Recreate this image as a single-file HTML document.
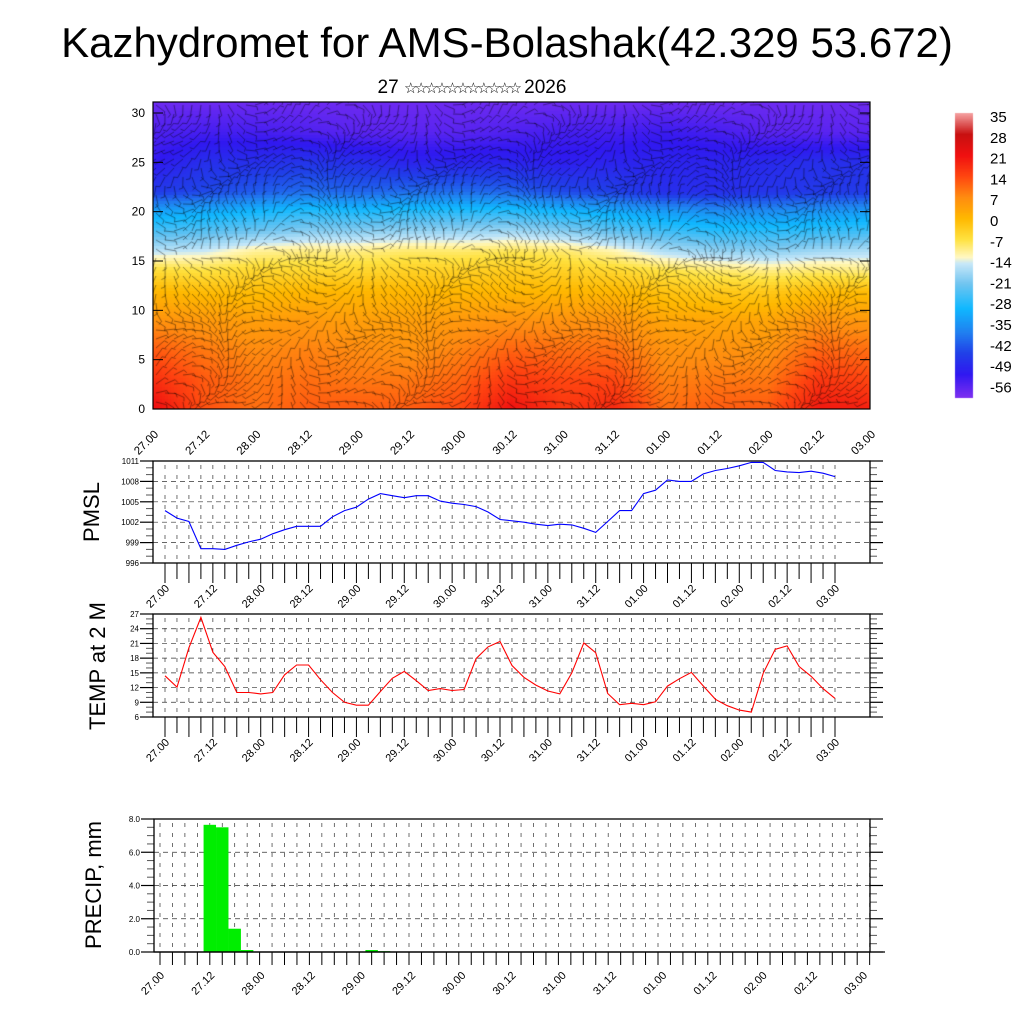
<!DOCTYPE html>
<html><head><meta charset="utf-8">
<style>
html,body{margin:0;padding:0;background:#fff;}
#wrap{position:relative;width:1024px;height:1024px;overflow:hidden;font-family:"Liberation Sans","DejaVu Sans",sans-serif;}
canvas{position:absolute;left:0;top:0;}
svg{position:absolute;left:0;top:0;}
</style></head>
<body>
<div id="wrap">
<canvas id="heat" width="1024" height="1024"></canvas>
<svg id="svg" width="1024" height="1024" xmlns="http://www.w3.org/2000/svg">
<text x="507" y="57" text-anchor="middle" font-size="42" fill="#000">Kazhydromet for AMS-Bolashak(42.329 53.672)</text>
<text x="472" y="93" text-anchor="middle" font-size="19" fill="#000">27 <tspan font-size="15" font-family="DejaVu Sans" letter-spacing="-3">☆☆☆☆☆☆☆☆☆☆☆</tspan> 2026</text>
</svg>
</div>
<script>
// ---------- data ----------
const timeLabels = ["27.00","27.12","28.00","28.12","29.00","29.12","30.00","30.12","31.00","31.12","01.00","01.12","02.00","02.12","03.00"];
const heights = [0,3,6,9,12,14,16,18,20,22,25,28,31];
const tempField = [
 [22,13,10,12,12,12,14,21,16,18,10,12,12,20,19],
 [17,12,9,10,9,9,11,16,14,14,8,9,9,16,14],
 [12,9,7,8,7,6,8,11,10,10,6,6,6,11,10],
 [6,5,4,5,4,4,5,6,6,6,3,3,3,6,5],
 [0,-1,-1,0,0,0,0,0,0,0,-2,-3,-3,-1,-1],
 [-6,-7,-5,-5,-5,-4,-4,-3,-4,-5,-7,-9,-10,-9,-10],
 [-16,-15,-11,-10,-10,-9,-9,-8,-9,-12,-17,-19,-20,-18,-17],
 [-25,-24,-22,-20,-20,-19,-19,-18,-20,-23,-26,-28,-28,-27,-26],
 [-33,-32,-30,-28,-29,-28,-28,-28,-30,-32,-34,-36,-36,-35,-34],
 [-46,-44,-42,-40,-41,-40,-40,-41,-44,-45,-48,-48,-47,-46,-46],
 [-52,-48,-48,-47,-48,-50,-50,-50,-51,-50,-50,-50,-49,-48,-48],
 [-55,-54,-54,-55,-56,-56,-56,-55,-54,-54,-53,-54,-56,-56,-56],
 [-58,-58,-58,-58,-58,-58,-58,-58,-58,-58,-58,-58,-58,-58,-58]
];
const heightTicks = [0,5,10,15,20,25,30];
const colorbarLabels = [35,28,21,14,7,0,-7,-14,-21,-28,-35,-42,-49,-56];
const pmsl = [1003.7,1002.6,1002.1,998.1,998.1,998.0,998.6,999.1,999.5,1000.3,1000.9,1001.4,1001.4,1001.4,1002.8,1003.7,1004.2,1005.4,1006.2,1005.9,1005.6,1005.9,1005.9,1005.1,1004.8,1004.6,1004.3,1003.5,1002.4,1002.2,1002.0,1001.7,1001.5,1001.7,1001.6,1001.1,1000.5,1002.1,1003.7,1003.7,1006.2,1006.7,1008.2,1008.0,1008.0,1009.1,1009.6,1009.9,1010.3,1010.8,1010.8,1009.6,1009.4,1009.3,1009.5,1009.2,1008.7];
const pmslTicks = [996,999,1002,1005,1008,1011];
const temp2m = [14.4,12.1,20.1,26.3,19.2,16.3,11.0,11.0,10.7,11.0,14.6,16.6,16.6,13.6,11.0,9.0,8.4,8.4,11.2,13.9,15.3,13.4,11.4,11.8,11.4,11.6,17.9,20.3,21.4,16.5,14.1,12.5,11.3,10.7,15.0,21.1,19.1,10.8,8.5,8.8,8.5,9.1,12.3,13.8,15.1,12.3,9.6,8.3,7.4,7.0,14.9,19.8,20.5,16.3,14.3,11.8,9.8];
const tempTicks = [6,9,12,15,18,21,24,27];
const precip = [0,0,0,0,7.65,7.5,1.4,0.12,0.03,0,0,0,0,0,0,0,0,0.12,0.05,0,0,0,0,0,0,0,0,0,0,0,0,0,0,0,0,0,0,0,0.02,0.02,0.02,0,0,0,0,0,0,0,0,0,0,0,0,0,0,0,0];
const precipTicks = [0,2,4,6,8];

// ---------- helpers ----------
const NS="http://www.w3.org/2000/svg";
const svg=document.getElementById('svg');
function mk(tag,attrs,parent){const e=document.createElementNS(NS,tag);for(const k in attrs)e.setAttribute(k,attrs[k]);(parent||svg).appendChild(e);return e;}

const cstops=[[-60,[128,48,240]],[-52,[48,24,240]],[-45,[32,64,232]],[-38,[32,128,240]],[-30,[16,184,255]],[-22,[110,196,240]],[-15,[200,232,248]],[-13,[255,248,196]],[-7,[255,226,64]],[0,[255,184,0]],[7,[255,140,16]],[14,[255,70,16]],[21,[240,16,16]],[28,[200,16,16]],[35,[244,160,160]]];
function cmap(v){
 if(v<=cstops[0][0])return cstops[0][1];
 for(let i=1;i<cstops.length;i++){if(v<=cstops[i][0]){const a=cstops[i-1],b=cstops[i];const t=(v-a[0])/(b[0]-a[0]);return a[1].map((c,j)=>Math.round(c+(b[1][j]-c)*t));}}
 return cstops[cstops.length-1][1];
}

// ---------- main panel ----------
const M={x0:153,x1:870,y0:102,y1:409};
const hx=i=>M.x0+i*(M.x1-M.x0)/(timeLabels.length-1);
const hy=h=>M.y1-h*(409-113)/30;
(function(){
 const ctx=document.getElementById('heat').getContext('2d');
 const step=3;
 for(let py=M.y0;py<M.y1;py+=step){
  const h=(M.y1-py-step/2)/((409-113)/30);
  let r=0;while(r<heights.length-2&&h>heights[r+1])r++;
  const tr=Math.max(0,Math.min(1,(h-heights[r])/(heights[r+1]-heights[r])));
  for(let px=M.x0;px<M.x1;px+=step){
   const fx=(px+step/2-M.x0)/((M.x1-M.x0)/(timeLabels.length-1));
   let c=Math.min(timeLabels.length-2,Math.floor(fx));const tc=Math.max(0,Math.min(1,fx-c));
   const v0=tempField[r][c]*(1-tc)+tempField[r][c+1]*tc;
   const v1=tempField[r+1][c]*(1-tc)+tempField[r+1][c+1]*tc;
   const v=v0*(1-tr)+v1*tr;const col=cmap(v);
   ctx.fillStyle=`rgb(${col[0]},${col[1]},${col[2]})`;
   ctx.fillRect(px,py,Math.min(step,M.x1-px),Math.min(step,M.y1-py));
  }
 }
 // wind barb texture (clipped to panel)
 ctx.save();
 ctx.beginPath();ctx.rect(M.x0,M.y0,M.x1-M.x0,M.y1-M.y0);ctx.clip();
 ctx.strokeStyle='rgba(0,0,0,0.7)';ctx.lineWidth=0.6;
 for(let gx=M.x0+3;gx<M.x1;gx+=9){
  for(let gy=M.y0+3;gy<M.y1;gy+=9){
   const a=Math.sin(gx*0.031+gy*0.017)*1.6+Math.cos(gy*0.043)*0.9+(gy<250?0.3:1.5);
   const L=11;const dx=Math.cos(a)*L,dy=Math.sin(a)*L;
   ctx.beginPath();ctx.moveTo(gx,gy);ctx.lineTo(gx+dx,gy+dy);
   ctx.lineTo(gx+dx+Math.cos(a+1.2)*4,gy+dy+Math.sin(a+1.2)*4);ctx.stroke();
  }
 }
 ctx.restore();
 const cb={x:955,w:18,y0:113,y1:398};
 for(let y=cb.y0;y<cb.y1;y++){
  const v=35-(y-cb.y0)/(cb.y1-cb.y0)*(35+60);
  const col=cmap(v);ctx.fillStyle=`rgb(${col[0]},${col[1]},${col[2]})`;ctx.fillRect(cb.x,y,cb.w,1);
 }
})();
mk('rect',{x:M.x0,y:M.y0,width:M.x1-M.x0,height:M.y1-M.y0,fill:'none',stroke:'#000','stroke-width':1.2,});
heightTicks.forEach(h=>{
 const t=mk('text',{x:145,y:hy(h)+4,'text-anchor':'end','font-size':12});t.textContent=h;
 
 
 mk('line',{x1:M.x0,x2:M.x0+10,y1:hy(h),y2:hy(h),stroke:'#000'});
 mk('line',{x1:M.x1,x2:M.x1-10,y1:hy(h),y2:hy(h),stroke:'#000'});
});
timeLabels.forEach((l,i)=>{
 const x=hx(i),y=423;
 const t=mk('text',{'text-anchor':'end','font-size':11.5,transform:`translate(${x+6},${y+12}) rotate(-45)`});t.textContent=l;
 
 
});
colorbarLabels.forEach((v,i)=>{
 const t=mk('text',{x:990,y:122+i*20.8,'font-size':15});t.textContent=v;
 
 
});

// ---------- line panels ----------
function linePanel(cfg){
 const {y0,y1,vmin,vmax,ticks,vals,color,title,ty,name}=cfg;
 const bx0=153,bx1=870,tx0=165,tx1=835;
 const n=vals.length;
 const X=i=>tx0+i*(tx1-tx0)/(n-1);
 const Y=v=>y1-(v-vmin)/(vmax-vmin)*(y1-y0);
 for(let i=0;i<n;i++){mk('line',{x1:X(i),x2:X(i),y1:y0+4,y2:y1,stroke:'#333','stroke-width':0.7,'stroke-dasharray':'4,6'});
  mk('line',{x1:X(i),x2:X(i),y1:y1,y2:y1+(i%2?16:20),stroke:'#000','stroke-width':1});}
 ticks.forEach((v,k)=>{
  mk('line',{x1:bx0,x2:bx1,y1:Y(v),y2:Y(v),stroke:'#333','stroke-width':0.7,'stroke-dasharray':'5,4'});
  mk('line',{x1:bx0-13,x2:bx0,y1:Y(v),y2:Y(v),stroke:'#000','stroke-width':1.2});
  mk('line',{x1:bx1,x2:bx1+13,y1:Y(v),y2:Y(v),stroke:'#000','stroke-width':1.2});
  if(k<ticks.length-1){for(let m=1;m<3;m++){const yy=Y(v+(ticks[1]-ticks[0])*m/3);
   mk('line',{x1:bx0-7,x2:bx0,y1:yy,y2:yy,stroke:'#555'});mk('line',{x1:bx1,x2:bx1+7,y1:yy,y2:yy,stroke:'#555'});}}
  const t=mk('text',{x:bx0-14,y:Y(v)+3,'text-anchor':'end','font-size':8});t.textContent=v;
  
  
 });
 mk('rect',{x:bx0,y:y0,width:bx1-bx0,height:y1-y0,fill:'none',stroke:'#000','stroke-width':1.3});
 const pts=vals.map((v,i)=>X(i).toFixed(1)+','+Y(v).toFixed(1)).join(' ');
 const pl=mk('polyline',{points:pts,fill:'none',stroke:color,'stroke-width':1.1});
 
 
 timeLabels.forEach((l,i)=>{
  const x=tx0+i*(tx1-tx0)/(timeLabels.length-1);
  const t=mk('text',{'text-anchor':'end','font-size':11,transform:`translate(${x+5},${y1+26}) rotate(-45)`});t.textContent=l;
  
  
 });
 const tt=mk('text',{'text-anchor':'middle','font-size':22,transform:`translate(${cfg.tx},${ty}) rotate(-90)`});tt.textContent=title;
 
 
}
linePanel({y0:461,y1:563,vmin:996,vmax:1011,ticks:pmslTicks,vals:pmsl,color:'#0000ff',title:'PMSL',tx:99,ty:512,name:'pmsl'});
linePanel({y0:614,y1:717,vmin:6,vmax:27,ticks:tempTicks,vals:temp2m,color:'#ff0000',title:'TEMP at 2 M',tx:105,ty:666,name:'temp'});

// ---------- precip panel ----------
(function(){
 const bx0=154,bx1=870,y0=819,y1=952,vmax=8;
 const tx0=160,step=12.45;
 const X=i=>tx0+i*step;
 const Y=v=>y1-v/vmax*(y1-y0);
 for(let i=0;i<=57;i++){const x=X(i);if(x>bx1)break;
  mk('line',{x1:x,x2:x,y1:y0+4,y2:y1,stroke:'#333','stroke-width':0.7,'stroke-dasharray':'4,6'});
  mk('line',{x1:x,x2:x,y1:y1,y2:y1+13,stroke:'#000'});}
 precipTicks.forEach((v,k)=>{
  mk('line',{x1:bx0,x2:bx1,y1:Y(v),y2:Y(v),stroke:'#333','stroke-width':0.7,'stroke-dasharray':'5,4'});
  mk('line',{x1:bx0-13,x2:bx0,y1:Y(v),y2:Y(v),stroke:'#000','stroke-width':1.2});
  mk('line',{x1:bx1,x2:bx1+13,y1:Y(v),y2:Y(v),stroke:'#000','stroke-width':1.2});
  if(k<precipTicks.length-1){for(let m=1;m<4;m++){const yy=Y(v+0.5*m);
   mk('line',{x1:bx0-7,x2:bx0,y1:yy,y2:yy,stroke:'#555'});mk('line',{x1:bx1,x2:bx1+7,y1:yy,y2:yy,stroke:'#555'});}}
  const t=mk('text',{x:bx0-14,y:Y(v)+3,'text-anchor':'end','font-size':8});t.textContent=v.toFixed(1);
  
  
 });
 precip.forEach((v,i)=>{if(v<=0)return;
  const r=mk('rect',{x:X(i)-step/2,y:Y(v),width:step,height:Math.max(0.8,y1-Y(v)),fill:'#00ee00'});
  
  
 });
 mk('rect',{x:bx0,y:y0,width:bx1-bx0,height:y1-y0,fill:'none',stroke:'#000','stroke-width':1.3});
 mk('line',{x1:bx0,x2:885,y1:y1,y2:y1,stroke:'#000','stroke-width':1.3});
 timeLabels.forEach((l,i)=>{
  const x=160+i*(863-160)/(timeLabels.length-1);
  const t=mk('text',{'text-anchor':'end','font-size':11,transform:`translate(${x+5},${y1+24}) rotate(-45)`});t.textContent=l;
  
  
 });
 const tt=mk('text',{'text-anchor':'middle','font-size':22,transform:`translate(101,885) rotate(-90)`});tt.textContent='PRECIP, mm';
 
 
})();
</script>
</body></html>
